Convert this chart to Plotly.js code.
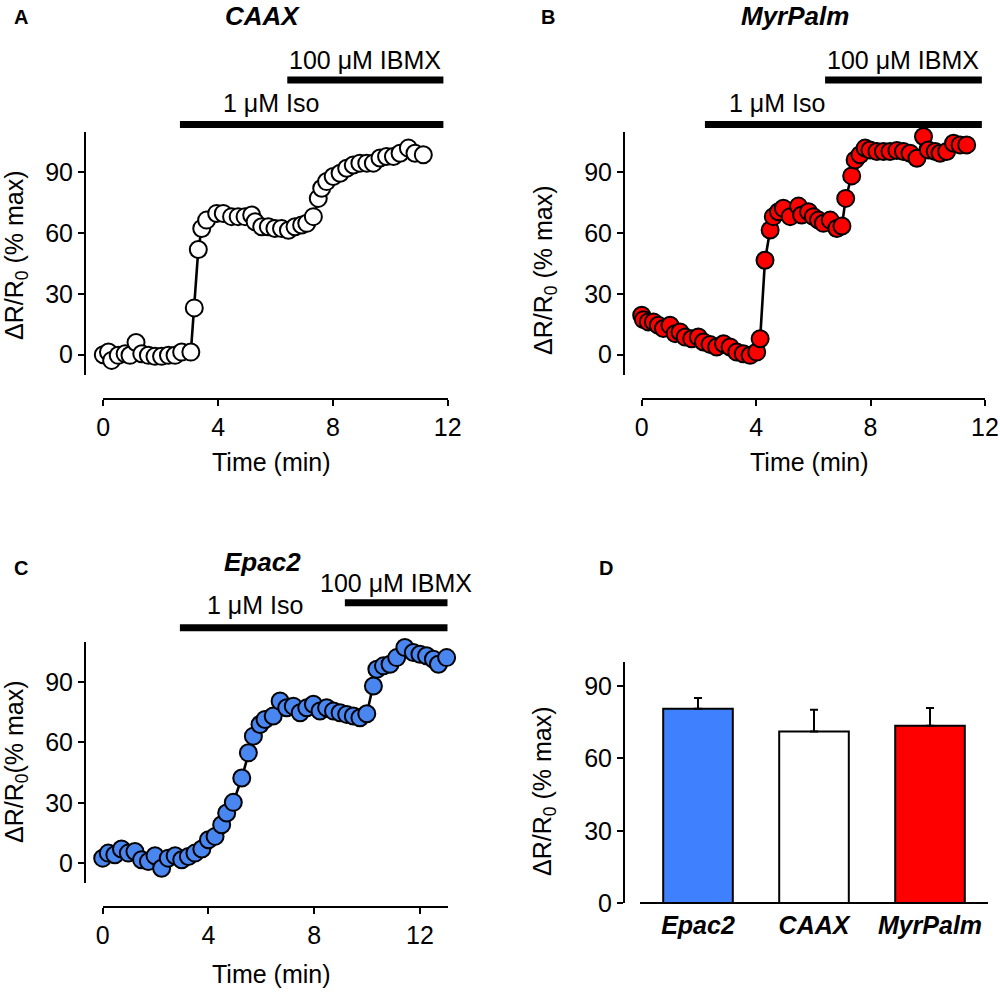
<!DOCTYPE html>
<html>
<head>
<meta charset="utf-8">
<script src="https://cdn.plot.ly/plotly-3.0.1.min.js"></script>
<style>html,body{margin:0;padding:0;background:#fff;}#chart{width:1000px;height:992px;}</style>
</head>
<body>
<div id="chart"></div>
<script>
// ---- Panel A: CAAX ----
const caaxTime = [0,0.18,0.29,0.52,0.76,0.93,1.14,1.34,1.57,1.80,2.03,2.27,2.50,2.73,3.05,3.17,3.31,3.43,3.60,3.95,4.18,4.47,4.70,4.94,5.17,5.29,5.52,5.75,5.98,6.21,6.45,6.68,6.91,7.09,7.32,7.49,7.61,7.78,8.01,8.25,8.48,8.71,8.94,9.18,9.41,9.64,9.87,10.11,10.34,10.63,10.86,11.15];
const caaxResp = [0,1.3,-2.8,-0.3,0.5,-0.3,6.0,0.5,-0.3,-0.8,-0.8,-0.3,-0.3,1.3,1.3,23.1,51.9,62.3,66.4,69.7,69.7,68.1,68.1,68.1,68.9,65.6,63.1,63.1,62.3,62.3,61.4,63.1,64.0,64.8,68.1,77.1,82.1,85.4,87.9,89.5,92.0,93.6,94.5,94.5,94.5,97.0,97.8,97.8,99.4,101.9,99.4,98.6];

// ---- Panel B: MyrPalm ----
const myrTime = [0,0.06,0.23,0.41,0.58,0.76,0.99,1.17,1.34,1.52,1.75,1.98,2.16,2.39,2.62,2.86,3.09,3.32,3.55,3.79,4.02,4.14,4.31,4.49,4.60,4.78,4.95,5.19,5.48,5.59,5.83,6.00,6.18,6.35,6.59,6.82,7.00,7.13,7.34,7.46,7.63,7.81,7.98,8.22,8.45,8.68,8.92,9.15,9.38,9.62,9.85,10.02,10.26,10.43,10.66,10.90,11.13,11.36];
const myrResp = [19.5,17.3,16.2,16.2,14.5,12.9,14.5,10.4,11.2,8.7,7.9,8.7,6.3,5.1,3.8,5.4,3.8,1.3,0.5,-0.3,1.3,7.9,46.6,61.5,68.1,70.5,72.2,68.1,73.3,68.9,70.5,68.1,66.4,64.8,66.4,62.3,63.5,77.1,88.2,96.1,98.6,101.9,101.0,100.2,100.2,100.2,100.7,100.2,99.4,96.9,107.6,101.0,100.2,99.4,100.2,104.3,103.5,103.5];

// ---- Panel C: Epac2 ----
const epacTime = [0,0.21,0.46,0.71,0.97,1.22,1.47,1.73,1.98,2.23,2.48,2.74,2.99,3.24,3.49,3.75,4.0,4.25,4.5,4.69,4.94,5.26,5.51,5.70,5.95,6.14,6.45,6.71,6.96,7.21,7.47,7.72,7.97,8.22,8.47,8.73,8.98,9.23,9.48,9.73,9.99,10.24,10.37,10.62,10.87,11.12,11.43,11.75,12.0,12.25,12.51,12.70,13.01];
const epacResp = [2.5,5.0,4.2,7.0,5.0,5.8,1.7,0.8,3.7,-2.5,2.5,3.7,1.7,3.3,5.0,7.0,11.6,13.3,19.1,24.9,30.2,42.3,54.8,63.1,68.9,71.4,73.1,80.5,77.2,78.0,74.7,77.2,78.9,75.6,77.2,75.6,74.7,73.9,73.1,72.2,74.2,88.0,96.3,98.0,98.8,102.1,107.1,104.6,103.8,103.0,101.3,98.8,102.1];

// ---- Treatment periods (min): [start, end] ----
const isoA = [2.67, 11.85];
const ibmxA = [6.41, 11.85];
const isoB = [2.21, 11.89];
const ibmxB = [6.41, 11.89];
const isoC = [2.92, 13.05];
const ibmxC = [9.16, 13.05];

// ---- Panel D: summary bars ----
const barCats = ["Epac2", "CAAX", "MyrPalm"];
const barVals = [80.5, 71.1, 73.5];
const barErrs = [4.5, 9.0, 7.3];

const yTicks = [0, 30, 60, 90];
const timeTicksAB = [0, 4, 8, 12];
const timeTicksC = [0, 4, 8, 12];

const FONT = 'Liberation Sans, Arial, Helvetica, sans-serif';
const H = 992, W = 1000;
const px = v => v / W;
const py = v => 1 - v / H;

const axBase = {
  showline: true, linecolor: 'black', linewidth: 2,
  ticks: 'outside', ticklen: 6, tickwidth: 2, tickcolor: 'black',
  showgrid: false, zeroline: false, fixedrange: true,
  tickfont: {size: 25, color: 'black', family: FONT},
  anchor: 'free'
};

function traceLine(x, y, xa, ya, fill, size) {
  return {
    x: x, y: y, xaxis: xa, yaxis: ya, type: 'scatter', mode: 'lines+markers',
    line: {color: 'black', width: 2.6},
    marker: {size: size, color: fill, line: {color: 'black', width: 2}},
    cliponaxis: false, hoverinfo: 'skip'
  };
}

const data = [
  traceLine(caaxTime, caaxResp, 'x', 'y', '#FFFFFF', 17),
  traceLine(myrTime, myrResp, 'x2', 'y2', '#FF0000', 17),
  traceLine(epacTime, epacResp, 'x3', 'y3', '#4A86F0', 17),
  {
    type: 'bar', x: barCats, y: barVals, xaxis: 'x4', yaxis: 'y4', width: 0.6,
    marker: {color: ['#3F80FF', '#FFFFFF', '#FF0000'], line: {color: 'black', width: 2}},
    error_y: {type: 'data', symmetric: false, array: barErrs, arrayminus: [0, 0, 0],
              color: 'black', thickness: 2, width: 4},
    hoverinfo: 'skip'
  }
];

function bar(xref, span, yPix) {
  return {type: 'line', xref: xref, yref: 'paper', x0: span[0], x1: span[1],
          y0: py(yPix), y1: py(yPix), line: {color: 'black', width: 7}};
}

const shapes = [
  bar('x', isoA, 124.5), bar('x', ibmxA, 80),
  bar('x2', isoB, 124.5), bar('x2', ibmxB, 80),
  bar('x3', isoC, 627.7), bar('x3', ibmxC, 602.7)
];

function lab(text, xref, x, yPix, opts) {
  return Object.assign({text: text, xref: xref, yref: 'paper', x: x, y: py(yPix),
    xanchor: 'left', yanchor: 'middle', showarrow: false,
    font: {size: 25, color: 'black', family: FONT}}, opts || {});
}
function ptxt(text, xPix, yPix, size, opts, fontExtra) {
  return Object.assign({text: text, xref: 'paper', yref: 'paper', x: px(xPix), y: py(yPix),
    xanchor: 'center', yanchor: 'middle', showarrow: false,
    font: Object.assign({size: size, color: 'black', family: FONT}, fontExtra || {})}, opts || {});
}
const BI = {weight: 'bold', style: 'italic'};
const B = {weight: 'bold'};

const yTitle = 'ΔR/R<sub>0</sub> (% max)';
const yTitleC = 'ΔR/R<sub>0</sub>(% max)';

const annotations = [
  // treatment labels
  lab('1 μM Iso', 'x', 4.1, 103), lab('100 μM IBMX', 'x', 6.41, 60),
  lab('1 μM Iso', 'x2', 2.98, 103), lab('100 μM IBMX', 'x2', 6.41, 60),
  lab('1 μM Iso', 'x3', 3.87, 605), lab('100 μM IBMX', 'x3', 8.14, 583),
  // panel titles
  ptxt('CAAX', 262.7, 0, 26, {yanchor: 'top', borderpad: 0}, BI),
  ptxt('MyrPalm', 795, 0, 26, {yanchor: 'top', borderpad: 0}, BI),
  ptxt('Epac2', 262, 562, 26, {}, BI),
  // panel letters
  ptxt('A', 21, 17, 20, {}, B), ptxt('B', 548, 17, 20, {}, B),
  ptxt('C', 21, 568, 20, {}, B), ptxt('D', 606, 568, 20, {}, B),
  // axis titles
  ptxt('Time (min)', 271, 462, 25), ptxt('Time (min)', 809, 462, 25),
  ptxt('Time (min)', 271, 974, 25),
  ptxt(yTitle, 16, 255, 25, {textangle: -90}),
  ptxt(yTitle, 545, 270, 25, {textangle: -90}),
  ptxt(yTitleC, 16, 762, 25, {textangle: -90}),
  ptxt(yTitle, 544, 791, 25, {textangle: -90})
];

const layout = {
  width: W, height: H, margin: {l: 0, r: 0, t: 0, b: 0},
  paper_bgcolor: 'white', plot_bgcolor: 'rgba(0,0,0,0)',
  showlegend: false,
  font: {family: FONT, size: 25, color: 'black'},
  xaxis: Object.assign({}, axBase, {domain: [0.1033, 0.4477], range: [0, 12], tickmode: 'array', tickvals: timeTicksAB, position: py(399.3)}),
  yaxis: Object.assign({}, axBase, {domain: [py(375), py(131.7)], range: [-10, 110], tickmode: 'array', tickvals: yTicks, position: px(85)}),
  xaxis2: Object.assign({}, axBase, {domain: [0.6417, 0.985], range: [0, 12], tickmode: 'array', tickvals: timeTicksAB, position: py(399.3)}),
  yaxis2: Object.assign({}, axBase, {domain: [py(375), py(131.7)], range: [-10, 110], tickmode: 'array', tickvals: yTicks, position: px(624)}),
  xaxis3: Object.assign({}, axBase, {domain: [0.1027, 0.4477], range: [0, 13.05], tickmode: 'array', tickvals: timeTicksC, position: py(906.7)}),
  yaxis3: Object.assign({}, axBase, {domain: [py(883.3), py(641.7)], range: [-10, 110], tickmode: 'array', tickvals: yTicks, position: px(85)}),
  xaxis4: Object.assign({}, axBase, {domain: [0.640, 0.988], range: [-0.5, 2.5], ticks: '', position: py(903.3),
           tickfont: {size: 25, color: 'black', family: FONT, weight: 'bold', style: 'italic'}}),
  yaxis4: Object.assign({}, axBase, {domain: [py(903.3), py(661.7)], range: [0, 100], tickmode: 'array', tickvals: yTicks, position: px(624)}),
  shapes: shapes,
  annotations: annotations
};

Plotly.newPlot('chart', data, layout, {staticPlot: true, displayModeBar: false});
</script>
</body>
</html>
